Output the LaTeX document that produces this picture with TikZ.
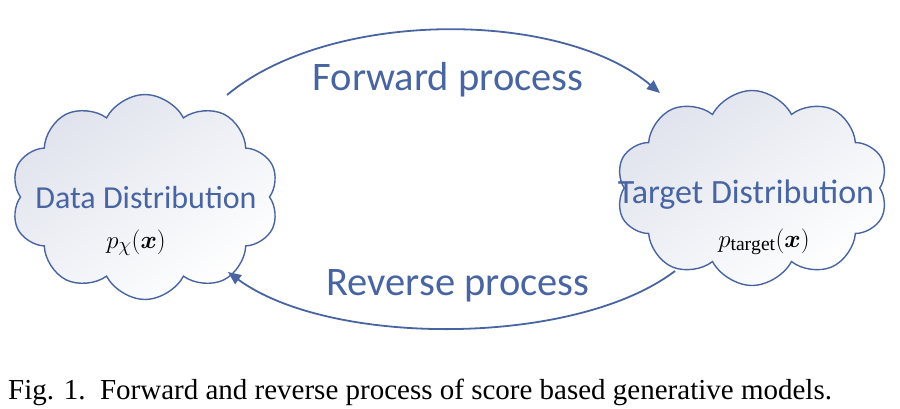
\documentclass[tikz,border=0pt]{standalone}
\usepackage{amsmath}
\usepackage{fontspec}
\setmainfont{Liberation Serif}
\newfontfamily\calib{Carlito}
\usetikzlibrary{shapes.symbols,arrows.meta}
\definecolor{ink}{RGB}{72,101,162}
\definecolor{cloudtop}{RGB}{224,227,237}
\tikzset{
  cloudbox/.style={cloud, cloud puffs=10, cloud puff arc=125, draw=ink, line width=1.4pt,
    top color=cloudtop, bottom color=white, shading angle=35, inner sep=0pt},
  bigtext/.style={font=\calib\fontsize{40.5}{48}\selectfont, text=ink, anchor=base, inner sep=0pt},
  midtext/.style={font=\calib\fontsize{32}{38}\selectfont, text=ink, anchor=base, inner sep=0pt},
  mathtext/.style={font=\fontsize{28}{32}\selectfont, anchor=base, inner sep=0pt},
  flow/.style={draw=ink, line width=1.8pt, -{Triangle[length=13pt,width=11pt]}},
}
\begin{document}
\begin{tikzpicture}[x=1pt,y=-1pt]
\useasboundingbox (0,0) rectangle (900,408);
\node[cloudbox, minimum width=268pt, minimum height=205pt] (L) at (145,197) {};
\node[cloudbox, minimum width=272pt, minimum height=195pt] (R) at (752,188) {};
\node[midtext] (Ltxt) at (146,208) {Data Distribution};
\node[mathtext] (Lmath) at (136,248) {$p_{\chi}(\boldsymbol{x})$};
\node[midtext, font=\calib\fontsize{34}{40}\selectfont] (Rtxt) at (746,203) {Target Distribution};
\node[mathtext] (Rmath) at (764,247) {$p_{\mathrm{target}}(\boldsymbol{x})$};
\node[bigtext] (F) at (448,90) {Forward process};
\node[bigtext] (B) at (458,295) {Reverse process};
\coordinate (f1) at (227,95);
\coordinate (f2) at (660,93);
\coordinate (r1) at (675,271);
\coordinate (r2) at (228,272);
\draw[flow] (f1) .. controls (330,9) and (560,9) .. (f2);
\draw[flow] (r1) .. controls (575,347) and (330,347) .. (r2);
\node[font=\fontsize{29}{34}\selectfont, anchor=base west, inner sep=0pt] (cap) at (8,399) {Fig. 1.\ \ Forward and reverse process of score based generative models.};
\end{tikzpicture}
\end{document}
